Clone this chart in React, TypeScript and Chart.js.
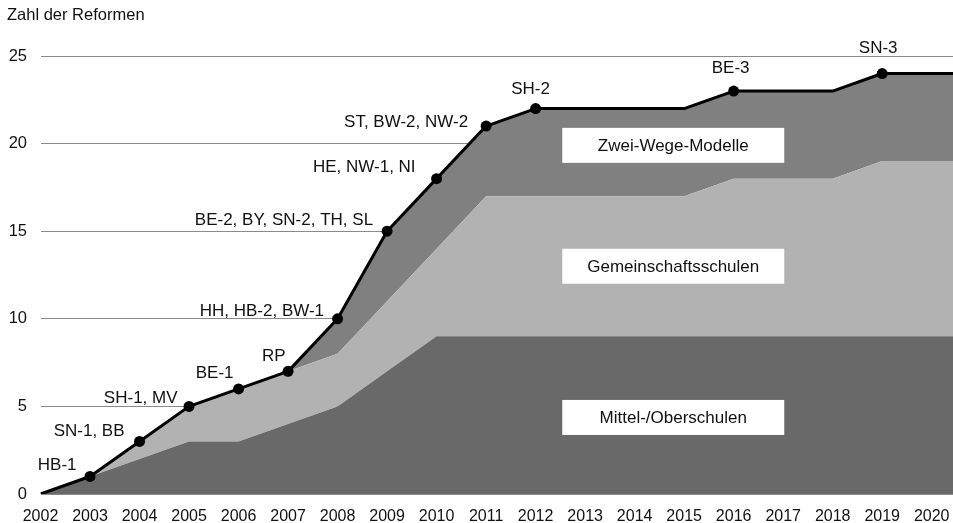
import React, { useEffect, useRef } from "react";
import { Chart, registerables } from "chart.js";

Chart.register(...registerables);

// ---------- data ----------
const years = [2002, 2003, 2004, 2005, 2006, 2007, 2008, 2009, 2010, 2011, 2012, 2013, 2014, 2015, 2016, 2017, 2018, 2019, 2020, 2021];
const mittelOberschulen = [0, 1, 2, 3, 3, 4, 5, 7, 9, 9, 9, 9, 9, 9, 9, 9, 9, 9, 9, 9];
const gemeinschaftsschulen = [0, 0, 1, 2, 3, 3, 3, 4, 5, 8, 8, 8, 8, 8, 9, 9, 9, 10, 10, 10];
const zweiWegeModelle = [0, 0, 0, 0, 0, 0, 2, 4, 4, 4, 5, 5, 5, 5, 5, 5, 5, 5, 5, 5];
const reformLabels = ["", "HB-1", "SN-1, BB", "SH-1, MV", "BE-1", "RP", "HH, HB-2, BW-1", "BE-2, BY, SN-2, TH, SL", "HE, NW-1, NI", "ST, BW-2, NW-2", "SH-2", "", "", "", "BE-3", "", "", "SN-3", "", ""];
const yTicks = [0, 5, 10, 15, 20, 25];
const seriesNames = ["Zwei-Wege-Modelle", "Gemeinschaftsschulen", "Mittel-/Oberschulen"];
const yAxisTitle = "Zahl der Reformen";

// ---------- styles ----------
const FONT = '"Liberation Sans", Arial, Helvetica, sans-serif';
const COLORS = { mittel: "#696969", gemein: "#b2b2b2", zwei: "#808080", line: "#000000", grid: "#8a8a8a", text: "#111111" };
// label placement relative to its point: align, dx (px), dy (px)
const labelPlacement: Record<string, [CanvasTextAlign, number, number]> = {
  "HB-1": ["right", -13.5, -11],
  "SN-1, BB": ["right", -15, -10],
  "SH-1, MV": ["right", -11.5, -8],
  "BE-1": ["right", -5, -16],
  "RP": ["right", -2.5, -15],
  "HH, HB-2, BW-1": ["right", -13.5, -7],
  "BE-2, BY, SN-2, TH, SL": ["right", -14, -11],
  "HE, NW-1, NI": ["right", -21, -11],
  "ST, BW-2, NW-2": ["right", -18, -4],
  "SH-2": ["center", -5, -19],
  "BE-3": ["center", -3, -23],
  "SN-3": ["center", -4, -25],
};
// legend boxes anchored in data space (year, value)
const boxAnchors: [number, number][] = [
  [2014.78, 19.9],
  [2014.78, 13.0],
  [2014.78, 4.37],
];

export default function App() {
  const ref = useRef<HTMLCanvasElement>(null);

  useEffect(() => {
    if (!ref.current) return;
    const cum1 = mittelOberschulen.slice();
    const cum2 = years.map((_, i) => mittelOberschulen[i] + gemeinschaftsschulen[i]);
    const total = years.map((_, i) => cum2[i] + zweiWegeModelle[i]);
    const pts = (arr: number[]) => years.map((x, i) => ({ x, y: arr[i] }));

    const annot = {
      id: "annot",
      afterDatasetsDraw(chart: any) {
        const ctx = chart.ctx as CanvasRenderingContext2D;
        const xs = chart.scales.x;
        const ys = chart.scales.y;
        ctx.save();
        ctx.font = `17px ${FONT}`;
        ctx.fillStyle = COLORS.text;
        ctx.textBaseline = "middle";
        // reform labels
        reformLabels.forEach((lab, i) => {
          if (!lab) return;
          const p = labelPlacement[lab];
          const px = xs.getPixelForValue(years[i]);
          const py = ys.getPixelForValue(total[i]);
          ctx.textAlign = p[0];
          ctx.fillText(lab, px + p[1], py + p[2]);
        });
        // legend boxes
        boxAnchors.forEach(([yx, yv], i) => {
          const cx = xs.getPixelForValue(yx);
          const cy = ys.getPixelForValue(yv);
          const w = 222, h = 35;
          ctx.fillStyle = "#ffffff";
          ctx.fillRect(cx - w / 2, cy - h / 2, w, h);
          ctx.fillStyle = COLORS.text;
          ctx.textAlign = "center";
          ctx.fillText(seriesNames[i], cx, cy + 1);
        });
        // axis title
        ctx.font = `16.5px ${FONT}`;
        ctx.textAlign = "left";
        ctx.fillText(yAxisTitle, 7, 15);
        ctx.restore();
      },
    };

    const chart = new Chart(ref.current, {
      type: "line",
      data: {
        datasets: [
          {
            label: "Gesamt",
            data: pts(total),
            borderColor: COLORS.line,
            borderWidth: 3,
            borderJoinStyle: "round",
            fill: false,
            pointRadius: years.map((_, i) => (reformLabels[i] ? 5.5 : 0)),
            pointHoverRadius: 0,
            pointBackgroundColor: COLORS.line,
            pointBorderWidth: 0,
            tension: 0,
          },
          {
            label: seriesNames[2],
            data: pts(cum1),
            backgroundColor: COLORS.mittel,
            borderWidth: 0,
            pointRadius: 0,
            fill: "origin",
            tension: 0,
          },
          {
            label: seriesNames[1],
            data: pts(cum2),
            backgroundColor: COLORS.gemein,
            borderWidth: 0,
            pointRadius: 0,
            fill: "-1",
            tension: 0,
          },
          {
            label: seriesNames[0],
            data: pts(total),
            backgroundColor: COLORS.zwei,
            borderWidth: 0,
            pointRadius: 0,
            fill: "-1",
            tension: 0,
          },
        ],
      },
      options: {
        responsive: false,
        animation: false,
        events: [],
        layout: { padding: { top: 56, right: 0, bottom: 0, left: 0 } },
        plugins: { legend: { display: false }, tooltip: { enabled: false }, title: { display: false } },
        scales: {
          x: {
            type: "linear",
            min: 2002,
            max: 2020.43,
            grid: { display: false },
            border: { display: false },
            ticks: {
              stepSize: 1,
              autoSkip: false,
              maxRotation: 0,
              minRotation: 0,
              padding: 5,
              color: COLORS.text,
              font: { family: FONT, size: 16 },
              callback: (v: any) => String(v),
            },
            afterBuildTicks: (s: any) => {
              s.ticks = years.filter((y) => y <= 2020).map((value) => ({ value }));
            },
            afterFit: (s: any) => {
              s.height = 29;
              s.paddingRight = 0;
              s.paddingLeft = 0;
            },
          },
          y: {
            min: 0,
            max: 25,
            grid: { color: COLORS.grid, lineWidth: 1, drawTicks: false },
            border: { display: false },
            ticks: {
              stepSize: 5,
              padding: 13.5,
              color: COLORS.text,
              font: { family: FONT, size: 16.5 },
            },
            afterBuildTicks: (s: any) => {
              s.ticks = yTicks.map((value) => ({ value }));
            },
            afterFit: (s: any) => {
              s.width = 40.5;
            },
          },
        },
      },
      plugins: [annot],
    } as any);

    return () => chart.destroy();
  }, []);

  return (
    <div style={{ position: "absolute", left: 0, top: 0, width: 953, height: 523, background: "#ffffff" }}>
      <canvas ref={ref} width={953} height={523} style={{ display: "block" }} />
    </div>
  );
}
